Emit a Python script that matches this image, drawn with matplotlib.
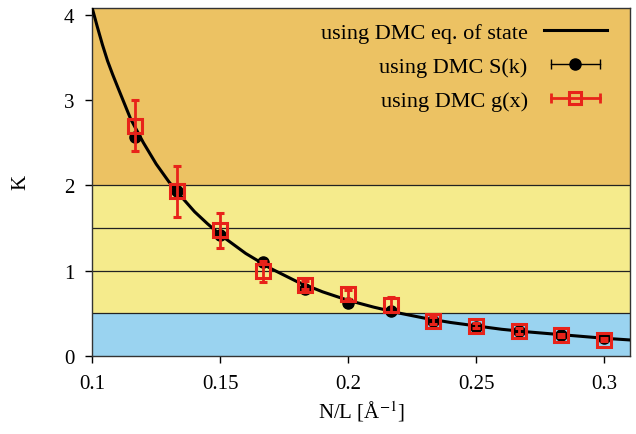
import matplotlib
matplotlib.use('Agg')
import matplotlib.pyplot as plt
from matplotlib.lines import Line2D
from matplotlib.legend_handler import HandlerLine2D, HandlerTuple

plt.rcParams['font.family'] = ['Liberation Serif', 'DejaVu Serif']
plt.rcParams['mathtext.fontset'] = 'stix'
plt.rcParams['font.size'] = 15

# equation of state curve
curve_x = [0.100, 0.102, 0.104, 0.106, 0.108, 0.110, 0.115, 0.120, 0.125,
           0.130, 0.135, 0.140, 0.145, 0.150, 0.155, 0.160, 0.170, 0.180,
           0.190, 0.200, 0.210, 0.220, 0.230, 0.240, 0.250, 0.260, 0.270,
           0.280, 0.290, 0.300, 0.310]
curve_k = [4.08, 3.86, 3.65, 3.46, 3.30, 3.15, 2.78, 2.50, 2.25,
           2.04, 1.86, 1.69, 1.55, 1.42, 1.31, 1.20, 1.02, 0.87,
           0.75, 0.65, 0.57, 0.50, 0.44, 0.39, 0.35, 0.31, 0.28,
           0.255, 0.23, 0.205, 0.185]

dens = [0.1167, 0.1333, 0.15, 0.1667, 0.1833, 0.2, 0.2167, 0.2333, 0.25,
        0.2667, 0.2833, 0.3]
k_sk = [2.57, 1.93, 1.42, 1.10, 0.78, 0.62, 0.52, 0.41, 0.34, 0.29, 0.24, 0.21]
err_sk = [0.03, 0.03, 0.03, 0.02, 0.02, 0.02, 0.02, 0.02, 0.02, 0.01, 0.01, 0.01]
k_gx = [2.70, 1.93, 1.47, 0.99, 0.83, 0.72, 0.60, 0.41, 0.35, 0.29, 0.24, 0.19]
err_gx = [0.30, 0.30, 0.20, 0.125, 0.05, 0.05, 0.09, 0.04, 0.03, 0.03, 0.02, 0.02]

bands = [(0.0, 0.5, '#9ad3f0'), (0.5, 2.0, '#f5eb8c'), (2.0, 4.08, '#ecc263')]
hlines = [0.5, 1.0, 1.5, 2.0]

fig = plt.figure(figsize=(6.36, 4.35), dpi=100)
ax = fig.add_axes([0.145, 0.18, 0.845, 0.799])

for lo, hi, col in bands:
    ax.axhspan(lo, hi, color=col, lw=0, zorder=0)
for h in hlines:
    ax.axhline(h, color='#222222', lw=0.9, zorder=1)

red = '#e8231a'
ax.plot(curve_x, curve_k, color='black', lw=2.2, zorder=3)
ax.errorbar(dens, k_sk, yerr=err_sk, fmt='o', color='black', ms=8,
            elinewidth=1, capsize=3, zorder=4)
ax.errorbar(dens, k_gx, yerr=err_gx, fmt='s', color=red, mfc='none',
            mec=red, mew=2.2, ms=10, elinewidth=2, capsize=3, capthick=2,
            zorder=5)

ax.set_xlim(0.1, 0.31)
ax.set_ylim(0, 4.08)
ax.set_xticks([0.1, 0.15, 0.2, 0.25, 0.3])
ax.set_xticklabels(['0.1', '0.15', '0.2', '0.25', '0.3'])
ax.set_yticks([0, 1, 2, 3, 4])
ax.tick_params(direction='out', length=5, width=1, pad=8)
for s in ax.spines.values():
    s.set_color('#333333')
    s.set_linewidth(1)

ax.set_xlabel('N/L [Å$^{-1}$]', labelpad=4)
ax.set_ylabel('K', labelpad=24)

# legend handles in the gnuplot style: sample line with caps, marker in middle
eos = Line2D([], [], color='black', lw=2.2)
sk_bar = Line2D([], [], color='black', lw=1, marker='|', ms=7, mew=1)
sk_dot = Line2D([], [], ls='none', marker='o', color='black', ms=8)
gx_bar = Line2D([], [], color=red, lw=2, marker='|', ms=7, mew=2)
gx_sq = Line2D([], [], ls='none', marker='s', mfc='none', mec=red, mew=2.2, ms=9)
hmap = {sk_bar: HandlerLine2D(numpoints=2), sk_dot: HandlerLine2D(numpoints=1),
        gx_bar: HandlerLine2D(numpoints=2), gx_sq: HandlerLine2D(numpoints=1),
        tuple: HandlerTuple(ndivide=1, pad=0)}
ax.legend([eos, (sk_bar, sk_dot), (gx_bar, gx_sq)],
          ['using DMC eq. of state', 'using DMC S(k)', 'using DMC g(x)'],
          loc='upper right', bbox_to_anchor=(0.984, 1.0),
          frameon=False, markerfirst=False, fontsize=16,
          handlelength=2.8, handletextpad=0.75, labelspacing=0.6,
          borderaxespad=0.25, handler_map=hmap)

fig.savefig('out.png', dpi=100)
